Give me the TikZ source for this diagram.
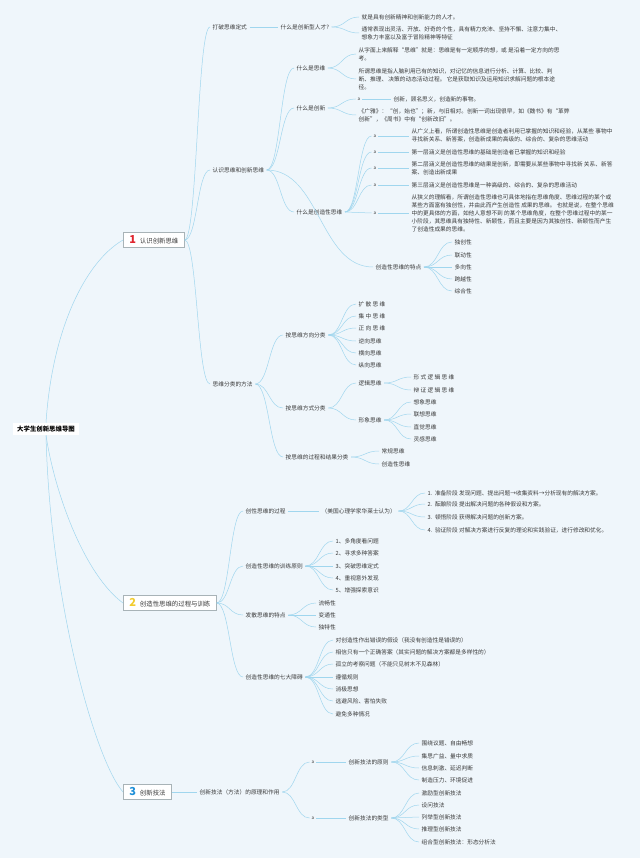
\documentclass[tikz,border=0pt]{standalone}
\usepackage{fontspec}
\newfontfamily\cjk{Noto Sans CJK SC}
\usetikzlibrary{calc}
\definecolor{bg}{HTML}{EFF6FB}
\definecolor{linec}{HTML}{A0D6EE}
\definecolor{txt}{HTML}{3A3A3A}
\definecolor{tborder}{HTML}{A8B3B7}
\definecolor{nred}{HTML}{E0262F}
\definecolor{nyel}{HTML}{F2CC2E}
\definecolor{nblu}{HTML}{1E8FD8}
\newcommand\topicnum[2]{{\color{#1}\fontsize{11}{11}\selectfont\bfseries #2}}
\begin{document}
\begin{tikzpicture}[x=1pt,y=-1pt,
  t/.style={anchor=west,inner xsep=2.5pt,inner ysep=1pt,font=\cjk\fontsize{5.7}{8}\selectfont,text=txt,align=left},
  mk/.style={anchor=center,inner sep=2pt,font=\cjk\fontsize{4.5}{5}\selectfont,text=txt},
  ln/.style={draw=linec,line width=0.5pt},
  cv/.style={to path={.. controls ($(\tikztostart)!0.5!(\tikztotarget|-\tikztostart)$) and ($(\tikztotarget)!0.5!(\tikztostart|-\tikztotarget)$) .. (\tikztotarget)}},
  topic/.style={anchor=west,draw=tborder,fill=white,line width=0.5pt,inner xsep=6pt,inner ysep=0pt,minimum height=15pt,font=\cjk\fontsize{6.4}{8}\selectfont,text=txt},
  root/.style={fill=white,inner xsep=4pt,inner ysep=3pt,font=\cjk\bfseries\fontsize{6.4}{8}\selectfont,text=black}
]
\fill[bg] (0,0) rectangle (640,858);
\useasboundingbox (0,0) rectangle (640,858);

% root and topics
\node[root] (R) at (46,429) {大学生创新思维导图};
\node[topic] (T1) at (123,240) {\topicnum{nred}{1}\hspace{4pt}认识创新思维};
\node[topic] (T2) at (123,603) {\topicnum{nyel}{2}\hspace{4pt}创造性思维的过程与训练};
\node[topic] (T3) at (123,792) {\topicnum{nblu}{3}\hspace{4pt}创新技法};

\draw[ln] (R.north) .. controls (52,330) and (85,262) .. (T1.west);
\draw[ln] (R.south) .. controls (55,495) and (85,575) .. (T2.west);
\draw[ln] (R.south) .. controls (50,600) and (95,760) .. (T3.west);

% ---------- topic 1 ----------
\node[t] (A1) at (210,27) {打破思维定式};
\node[t] (A2) at (210,170) {认识思维和创新思维};
\node[t] (A3) at (210,384) {思维分类的方法};

\node[t] (B1) at (278,27) {什么是创新型人才?};
\node[t] (C1) at (359,17) {就是具有创新精神和创新能力的人才。};
\node[t] (C2) at (359,33) {通常表现出灵活、开放、好奇的个性，具有精力充沛、坚持不懈、注意力集中、\\想象力丰富以及富于冒险精神等特征};

\node[t] (B2) at (294,68) {什么是思维};
\node[t] (C3) at (356,54) {从字面上来解释“思维”就是：思维是有一定顺序的想，或 是沿着一定方向的思\\考。};
\node[t] (C4) at (356,79) {所谓思维是指人脑利用已有的知识，对记忆的信息进行分析、计算、比较、判\\断、推理、 决策的动态活动过程。 它是获取知识及运用知识求解问题的根本途\\径。};

\node[t] (B3) at (294,108) {什么是创新};
\node[mk] (a1) at (359,99) {a};
\node[t] (C5) at (391,99) {创新，顾名思义，创造新的事物。};
\node[t] (C6) at (356,115) {《广雅》：“创，始也”；新，与旧相对。创新一词出现很早，如《魏书》有“革弊\\创新”，《周书》中有“创新改旧”。};

\node[t] (B4) at (294,212) {什么是创造性思维};
\node[mk] (a2) at (375,136) {a};
\node[mk] (a3) at (375,152) {a};
\node[mk] (a4) at (375,168) {a};
\node[mk] (a5) at (375,185) {a};
\node[mk] (a6) at (375,213) {a};
\node[t] (D1) at (409,135) {从广义上看，所谓创造性思维是创造者利用已掌握的知识和经验，从某些 事物中\\寻找新关系、新答案，创造新成果的高级的、综合的、复杂的思维活动};
\node[t] (D2) at (409,152) {第一层涵义是创造性思维的基础是创造者已掌握的知识和经验};
\node[t] (D3) at (409,168) {第二层涵义是创造性思维的结果是创新，即需要从某些事物中寻找新 关系、新答\\案、创造出新成果};
\node[t] (D4) at (409,185) {第三层涵义是创造性思维是一种高级的、综合的、复杂的思维活动};
\node[t] (D5) at (409,213) {从狭义的理解看，所谓创造性思维也可具体地指在思维角度、思维过程的某个或\\某些方面富有独创性，并由此而产生创造性 成果的思维。 也就是说，在整个思维\\中的更具体的方面，如他人意想不到 的某个思维角度，在整个思维过程中的某一\\小阶段，其思维具有独特性、新颖性，而且主要是因为其独创性、新颖性而产生\\了创造性成果的思维。};

\node[t] (B5) at (373,267) {创造性思维的特点};
\node[t] (E1) at (452,242) {独创性};
\node[t] (E2) at (452,255) {联动性};
\node[t] (E3) at (452,267) {多向性};
\node[t] (E4) at (452,279) {跨越性};
\node[t] (E5) at (452,291) {综合性};

\node[t] (B6) at (283,335) {按思维方向分类};
\node[t] (F1) at (356,304) {扩 散 思 维};
\node[t] (F2) at (356,316) {集 中 思 维};
\node[t] (F3) at (356,328) {正 向 思 维};
\node[t] (F4) at (356,341) {逆向思维};
\node[t] (F5) at (356,353) {横向思维};
\node[t] (F6) at (356,365) {纵向思维};

\node[t] (B7) at (283,408) {按思维方式分类};
\node[t] (G1) at (356,383) {逻辑思维};
\node[t] (G2) at (356,420) {形象思维};
\node[t] (H1) at (411,377) {形 式 逻 辑 思 维};
\node[t] (H2) at (411,390) {辩 证 逻 辑 思 维};
\node[t] (H3) at (411,402) {想象思维};
\node[t] (H4) at (411,414) {联想思维};
\node[t] (H5) at (411,427) {直觉思维};
\node[t] (H6) at (411,439) {灵感思维};

\node[t] (B8) at (283,457) {按思维的过程和结果分类};
\node[t] (I1) at (379,451) {常规思维};
\node[t] (I2) at (379,464) {创造性思维};

\draw[ln] (T1.east) to[cv] (A1.west);
\draw[ln] (T1.east) to[cv] (A2.west);
\draw[ln] (T1.east) to[cv] (A3.west);
\draw[ln] (A1.east) -- (B1.west);
\foreach \c in {C1,C2} \draw[ln] (B1.east) to[cv] (\c.west);
\foreach \c in {B2,B3,B4,B5} \draw[ln] (A2.east) to[cv] (\c.west);
\foreach \c in {C3,C4} \draw[ln] (B2.east) to[cv] (\c.west);
\draw[ln] (B3.east) to[cv] (a1.west);
\draw[ln] (B3.east) to[cv] (C6.west);
\draw[ln] (a1.east) -- (C5.west);
\foreach \c in {a2,a3,a4,a5,a6} \draw[ln] (B4.east) to[cv] (\c.west);
\draw[ln] (a2.east) -- (a2.east-|D1.west);
\draw[ln] (a3.east) -- (D2.west);
\draw[ln] (a4.east) -- (a4.east-|D3.west);
\draw[ln] (a5.east) -- (D4.west);
\draw[ln] (a6.east) -- (D5.west);
\foreach \c in {E1,E2,E3,E4,E5} \draw[ln] (B5.east) to[cv] (\c.west);
\foreach \c in {B6,B7,B8} \draw[ln] (A3.east) to[cv] (\c.west);
\foreach \c in {F1,F2,F3,F4,F5,F6} \draw[ln] (B6.east) to[cv] (\c.west);
\foreach \c in {G1,G2} \draw[ln] (B7.east) to[cv] (\c.west);
\foreach \c in {H1,H2} \draw[ln] (G1.east) to[cv] (\c.west);
\foreach \c in {H3,H4,H5,H6} \draw[ln] (G2.east) to[cv] (\c.west);
\foreach \c in {I1,I2} \draw[ln] (B8.east) to[cv] (\c.west);

% ---------- topic 2 ----------
\node[t] (J1) at (243,511) {创性思维的过程};
\node[t] (J2) at (243,566) {创造性思维的训练原则};
\node[t] (J3) at (243,615) {发散思维的特点};
\node[t] (J4) at (243,677) {创造性思维的七大障碍};

\node[t] (K1) at (319,511) {（美国心理学家华莱士认为）};
\node[t] (L1) at (425,493) {1.\ \ 准备阶段 发现问题、提出问题→收集资料→分析现有的解决方案。};
\node[t] (L2) at (425,504) {2.\ \ 酝酿阶段 提出解决问题的各种假设和方案。};
\node[t] (L3) at (425,517) {3.\ \ 顿悟阶段 获得解决问题的创新方案。};
\node[t] (L4) at (425,530) {4.\ \ 验证阶段 对解决方案进行反复的理论和实践验证，进行修改和优化。};

\node[t] (M1) at (333,541) {1、多角度看问题};
\node[t] (M2) at (333,553) {2、寻求多种答案};
\node[t] (M3) at (333,566) {3、突破思维定式};
\node[t] (M4) at (333,578) {4、重视意外发现};
\node[t] (M5) at (333,590) {5、增强探索意识};

\node[t] (N1) at (316,603) {流畅性};
\node[t] (N2) at (316,615) {变通性};
\node[t] (N3) at (316,627) {独特性};

\node[t] (O1) at (333,640) {对创造性作出错误的假设（我没有创造性是错误的）};
\node[t] (O2) at (333,652) {相信只有一个正确答案（其实问题的解决方案都是多样性的）};
\node[t] (O3) at (333,664) {孤立的考察问题（不能只见树木不见森林）};
\node[t] (O4) at (333,677) {遵循规则};
\node[t] (O5) at (333,689) {消极思想};
\node[t] (O6) at (333,701) {逃避风险、害怕失败};
\node[t] (O7) at (333,714) {避免多种情况};

\foreach \c in {J1,J2,J3,J4} \draw[ln] (T2.east) to[cv] (\c.west);
\draw[ln] (J1.east) -- (K1.west);
\foreach \c in {L1,L2,L3,L4} \draw[ln] (K1.east) to[cv] (\c.west);
\foreach \c in {M1,M2,M3,M4,M5} \draw[ln] (J2.east) to[cv] (\c.west);
\foreach \c in {N1,N2,N3} \draw[ln] (J3.east) to[cv] (\c.west);
\foreach \c in {O1,O2,O3,O4,O5,O6,O7} \draw[ln] (J4.east) to[cv] (\c.west);

% ---------- topic 3 ----------
\node[t] (P1) at (197,792) {创新技法（方法）的原理和作用};
\node[mk] (a7) at (313,762) {a};
\node[mk] (a8) at (313,818) {a};
\node[t] (Q1) at (346,762) {创新技法的原则};
\node[t] (Q2) at (346,818) {创新技法的类型};
\node[t] (S1) at (419,743) {围绕议题、自由畅想};
\node[t] (S2) at (419,756) {集思广益、量中求质};
\node[t] (S3) at (419,768) {信息刺激、延迟判断};
\node[t] (S4) at (419,780) {制造压力、环境促进};
\node[t] (U1) at (419,793) {激励型创新技法};
\node[t] (U2) at (419,805) {设问技法};
\node[t] (U3) at (419,817) {列举型创新技法};
\node[t] (U4) at (419,829) {推理型创新技法};
\node[t] (U5) at (419,842) {组合型创新技法：形态分析法};

\draw[ln] (T3.east) -- (T3.east-|P1.west);
\foreach \c in {a7,a8} \draw[ln] (P1.east) to[cv] (\c.west);
\draw[ln] (a7.east) -- (Q1.west);
\draw[ln] (a8.east) -- (Q2.west);
\foreach \c in {S1,S2,S3,S4} \draw[ln] (Q1.east) to[cv] (\c.west);
\foreach \c in {U1,U2,U3,U4,U5} \draw[ln] (Q2.east) to[cv] (\c.west);
\end{tikzpicture}
\end{document}
